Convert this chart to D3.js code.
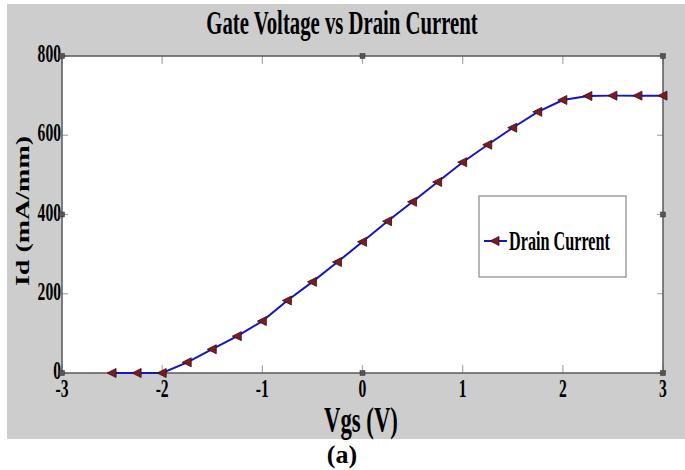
<!DOCTYPE html>
<html><head><meta charset="utf-8">
<script src="https://cdn.jsdelivr.net/npm/d3@7"></script>
<style>html,body{margin:0;padding:0;background:#fff;}svg{display:block;}</style>
</head><body>
<svg id="chart" width="685" height="470"></svg>
<script>
const vgs = [-2.5,-2.25,-2,-1.75,-1.5,-1.25,-1,-0.75,-0.5,-0.25,0,0.25,0.5,0.75,1,1.25,1.5,1.75,2,2.25,2.5,2.75,3];
const drainCurrent = [0,0,0,27,60,93,131,183,230,280,331,383,432,482,532,576,619,659,689,699,700,700,700];
const xTicks = [-3,-2,-1,0,1,2,3];
const yTicks = [0,200,400,600,800];
const titleText = "Gate Voltage vs Drain Current";
const xLabel = "Vgs (V)";
const yLabel = "Id (mA/mm)";
const legendLabel = "Drain Current";
const caption = "(a)";

const svg = d3.select("#chart");
const FONT = "'Liberation Serif','Times New Roman',serif";
const SX = 0.6;
const P = {l:62, r:663, t:56, b:373};

svg.append("rect").attr("x",7).attr("y",4).attr("width",678).attr("height",435).attr("fill","#cdcdcd");

const x = d3.scaleLinear().domain([-3,3]).range([P.l,P.r]);
const y = d3.scaleLinear().domain([0,800]).range([P.b,P.t]);

svg.append("rect").attr("x",P.l).attr("y",P.t).attr("width",P.r-P.l).attr("height",P.b-P.t).attr("fill","#fff");

function sqText(tx,ty,str,size,anchor,sx){
  return svg.append("text").attr("transform",`translate(${tx},${ty}) scale(${sx||SX},1)`)
    .attr("text-anchor",anchor||"middle").attr("font-family",FONT).attr("font-weight","bold")
    .attr("font-size",size).attr("fill","#000").text(str);
}

// inner ticks
const tk = svg.append("g").attr("stroke","#a8a8a8").attr("stroke-width",1.2);
xTicks.forEach(v=>{
  tk.append("line").attr("x1",x(v)).attr("x2",x(v)).attr("y1",P.b).attr("y2",P.b-8);
  tk.append("line").attr("x1",x(v)).attr("x2",x(v)).attr("y1",P.t).attr("y2",P.t+8);
});
yTicks.forEach(v=>{
  tk.append("line").attr("x1",P.l).attr("x2",P.l+6).attr("y1",y(v)).attr("y2",y(v));
  tk.append("line").attr("x1",P.r).attr("x2",P.r-6).attr("y1",y(v)).attr("y2",y(v));
});

// box
svg.append("rect").attr("x",P.l).attr("y",P.t).attr("width",P.r-P.l).attr("height",P.b-P.t)
  .attr("fill","none").attr("stroke","#5a5a5a").attr("stroke-width",1.5);

// tick labels
xTicks.forEach(v=> sqText(x(v), 397, String(v), 26));
yTicks.forEach(v=> sqText(P.l-1, y(v)+6, String(v), 26, "end"));

// line
const line = d3.line().x((d,i)=>x(vgs[i])).y(d=>y(d));
svg.append("path").datum(drainCurrent).attr("d",line).attr("fill","none")
  .attr("stroke","#1414c8").attr("stroke-width",2);

const tri = "M-5,0 L4,-4.5 L4,4.5 Z";
svg.append("g").selectAll("path").data(drainCurrent).join("path")
  .attr("d",tri).attr("transform",(d,i)=>`translate(${x(vgs[i])},${y(d)})`)
  .attr("fill","#7a1c22").attr("stroke","#3a0c10").attr("stroke-width",0.8);

// selection handles
const hx = [P.l,(P.l+P.r)/2,P.r], hy=[P.t,y(400),P.b];
hx.forEach((a,i)=>hy.forEach((b,j)=>{
  if(i===1&&j===1) return;
  svg.append("rect").attr("x",a-2.5).attr("y",b-2.5).attr("width",5).attr("height",5)
    .attr("fill","#555").attr("stroke","#333").attr("stroke-width",0.5);
}));

// legend
svg.append("rect").attr("x",479).attr("y",196).attr("width",147).attr("height",81)
  .attr("fill","#fff").attr("stroke","#888").attr("stroke-width",1.2);
svg.append("line").attr("x1",484).attr("x2",507).attr("y1",241).attr("y2",241)
  .attr("stroke","#1414c8").attr("stroke-width",2);
svg.append("path").attr("d",tri).attr("transform","translate(495,241)")
  .attr("fill","#7a1c22").attr("stroke","#3a0c10").attr("stroke-width",0.8);
sqText(509, 250, legendLabel, 27, "start");

// title, axis labels
sqText(342, 34, titleText, 34, "middle", 0.61);
sqText(361, 432, xLabel, 35, "middle", 0.65);
svg.append("text").attr("transform",`translate(29,211) rotate(-90) scale(1,0.66)`)
  .attr("text-anchor","middle").attr("font-family",FONT).attr("font-weight","bold")
  .attr("font-size",28).text(yLabel);

// caption
svg.append("text").attr("x",342).attr("y",463).attr("text-anchor","middle")
  .attr("font-family",FONT).attr("font-weight","bold").attr("font-size",26).text(caption);
</script>
</body></html>
